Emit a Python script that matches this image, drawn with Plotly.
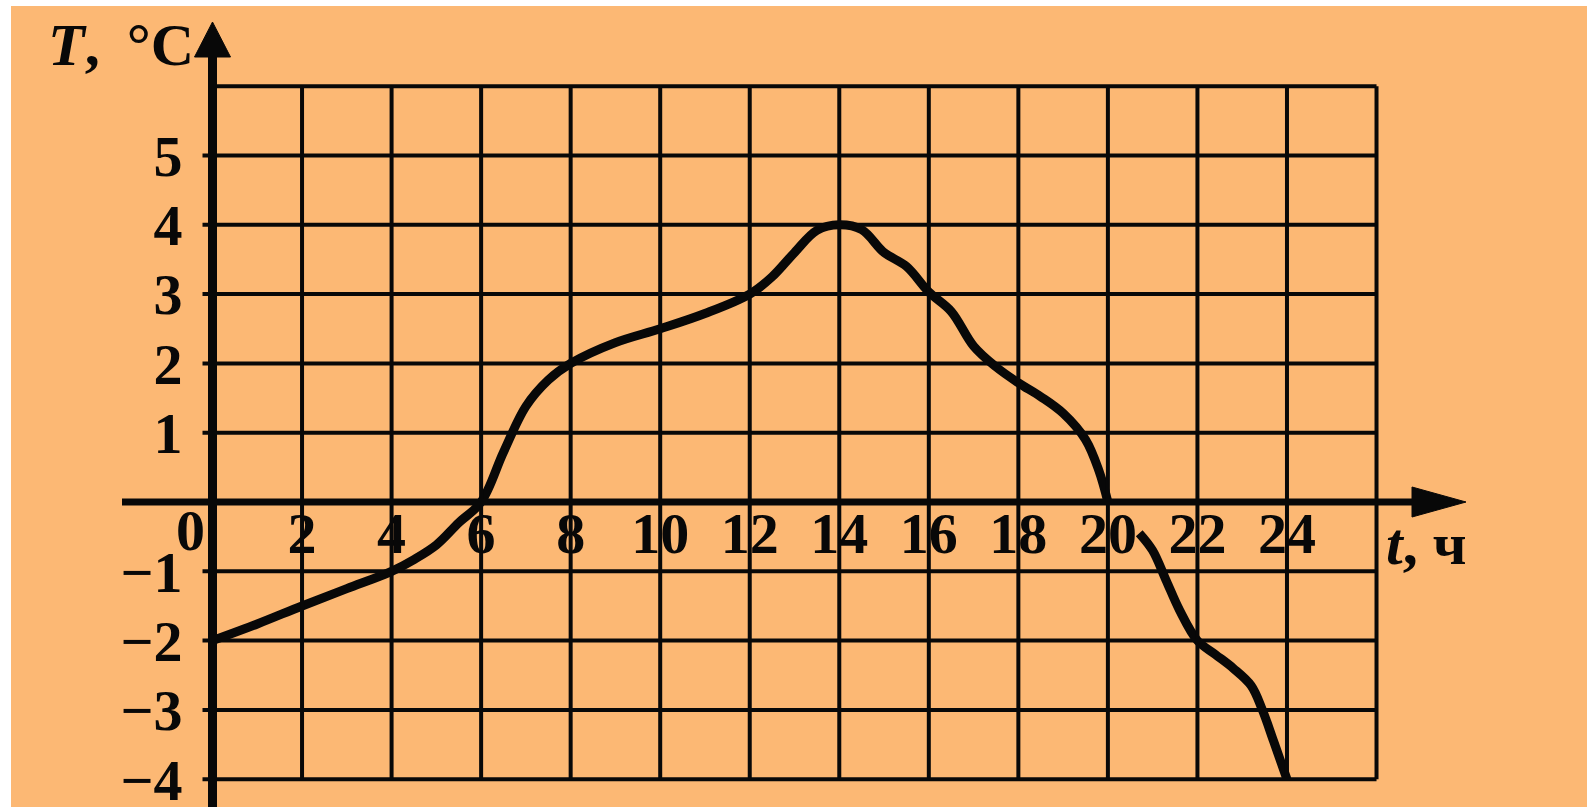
import plotly.graph_objects as go

# Air temperature over one day (t in hours, T in degrees C)
hours_day = [0, 1, 2, 3, 4, 4.5, 5, 5.5, 6, 6.5, 7, 7.5, 8, 9, 10, 11, 12, 12.5, 13,
             13.5, 14, 14.5, 15, 15.5, 16, 16.5, 17, 17.5, 18, 18.5, 19, 19.5, 19.8, 20]
temp_day = [-2, -1.76, -1.5, -1.25, -1.0, -0.83, -0.62, -0.3, 0.0, 0.72, 1.38, 1.76,
            2.0, 2.3, 2.5, 2.72, 3.0, 3.25, 3.6, 3.92, 4.0, 3.93, 3.6, 3.4, 3.03, 2.75,
            2.25, 1.95, 1.72, 1.52, 1.28, 0.9, 0.45, 0]
hours_night = [20.7, 21.0, 21.3, 21.6, 22, 22.4, 22.8, 23.2, 23.45, 23.7, 24]
temp_night = [-0.45, -0.7, -1.13, -1.56, -2.0, -2.2, -2.4, -2.65, -3.0, -3.45, -4.0]

grid_hours = [2, 4, 6, 8, 10, 12, 14, 16, 18, 20, 22, 24, 26]
grid_temps = [-4, -3, -2, -1, 1, 2, 3, 4, 5, 6]
x_tick_vals = [2, 4, 6, 8, 10, 12, 14, 16, 18, 20, 22, 24]
x_tick_text = ["2", "4", "6", "8", "10", "12", "14", "16", "18", "20", "22", "24"]
y_tick_vals = [-4, -3, -2, -1, 1, 2, 3, 4, 5]
y_tick_text = ["\u22124", "\u22123", "\u22122", "\u22121", "1", "2", "3", "4", "5"]

W, H = 1587, 807
OX, OY = 212.5, 502.0      # origin position on the page (px)
SX, SY = 44.77, 69.3       # px per hour, px per degree
BG = "#FCB874"
INK = "#080808"
FONT = "Liberation Serif"

x_range = [-OX / SX, (W - OX) / SX]
y_range = [-(H - OY) / SY, OY / SY]


def hx(px):
    """page x (px) -> hours"""
    return (px - OX) / SX


def vy(py):
    """page y (px) -> degrees"""
    return (OY - py) / SY


T_MIN, T_MAX = min(grid_temps), max(grid_temps)
H_MAX = max(grid_hours)

shapes = [
    # thin white strips along the top and left page edges
    dict(type="rect", xref="paper", yref="paper", x0=0, x1=11 / W, y0=0, y1=1,
         fillcolor="white", line=dict(width=0), layer="below"),
    dict(type="rect", xref="paper", yref="paper", x0=0, x1=1, y0=1 - 6 / H, y1=1,
         fillcolor="white", line=dict(width=0), layer="below"),
]

# grid
for h in grid_hours:
    shapes.append(dict(type="line", xref="x", yref="y", x0=h, x1=h, y0=T_MIN, y1=T_MAX,
                       line=dict(color=INK, width=4)))
for t in grid_temps:
    x_start = 0 if t == T_MAX else hx(OX - 10)
    shapes.append(dict(type="line", xref="x", yref="y", x0=x_start, x1=H_MAX, y0=t, y1=t,
                       line=dict(color=INK, width=4)))

# axes with arrow heads
y_arrow_base, y_arrow_tip, y_arrow_hw = vy(57), vy(22), 18 / SX
x_arrow_base, x_arrow_tip, x_arrow_hh = hx(1412), hx(1466), 15 / SY
shapes += [
    dict(type="line", xref="x", yref="y", x0=0, x1=0, y0=y_range[0], y1=y_arrow_base + 0.05,
         line=dict(color=INK, width=9)),
    dict(type="path", xref="x", yref="y",
         path=f"M {-y_arrow_hw} {y_arrow_base} L 0 {y_arrow_tip} L {y_arrow_hw} {y_arrow_base} Z",
         fillcolor=INK, line=dict(color=INK, width=1)),
    dict(type="line", xref="x", yref="y", x0=hx(122), x1=x_arrow_base + 0.05, y0=0, y1=0,
         line=dict(color=INK, width=7)),
    dict(type="path", xref="x", yref="y",
         path=f"M {x_arrow_base} {-x_arrow_hh} L {x_arrow_tip} 0 L {x_arrow_base} {x_arrow_hh} Z",
         fillcolor=INK, line=dict(color=INK, width=1)),
]

tick_font = dict(family=FONT, size=58, color=INK, weight="bold")
title_font = dict(family=FONT, size=60, color=INK, weight="bold")

fig = go.Figure()
fig.add_trace(go.Scatter(
    x=hours_day + [None] + hours_night,
    y=temp_day + [None] + temp_night,
    mode="lines",
    line=dict(color=INK, width=9, shape="spline", smoothing=1.0),
    connectgaps=False,
    hoverinfo="skip",
    showlegend=False,
))

fig.update_layout(
    template="none",
    width=W, height=H,
    margin=dict(l=0, r=0, t=0, b=0),
    paper_bgcolor=BG,
    plot_bgcolor=BG,
    showlegend=False,
    shapes=shapes,
    xaxis=dict(range=x_range, anchor="free", position=(H - OY) / H,
               tickvals=x_tick_vals, ticktext=x_tick_text, tickfont=tick_font,
               ticks="", showgrid=False, zeroline=False, showline=False,
               ticklabelstandoff=-8, ticklabeloverflow="allow",
               automargin=False, fixedrange=True),
    yaxis=dict(range=y_range, anchor="free", position=OX / W,
               tickvals=y_tick_vals, ticktext=y_tick_text, tickfont=tick_font,
               ticks="", showgrid=False, zeroline=False, showline=False,
               ticklabelstandoff=30, ticklabeloverflow="allow",
               automargin=False, fixedrange=True),
    annotations=[
        dict(x=hx(190), y=vy(530), xref="x", yref="y", text="0", showarrow=False,
             font=tick_font, xanchor="center", yanchor="middle"),
        dict(x=hx(196), y=vy(45), xref="x", yref="y", text="<i>T</i>,\u00a0\u2009°C",
             showarrow=False, font=title_font, xanchor="right", yanchor="middle"),
        dict(x=hx(1384), y=vy(544), xref="x", yref="y", text="<i>t</i>,\u00a0ч",
             showarrow=False, font=title_font, xanchor="left", yanchor="middle"),
    ],
)

fig.write_html("out.html", config=dict(displayModeBar=False))
